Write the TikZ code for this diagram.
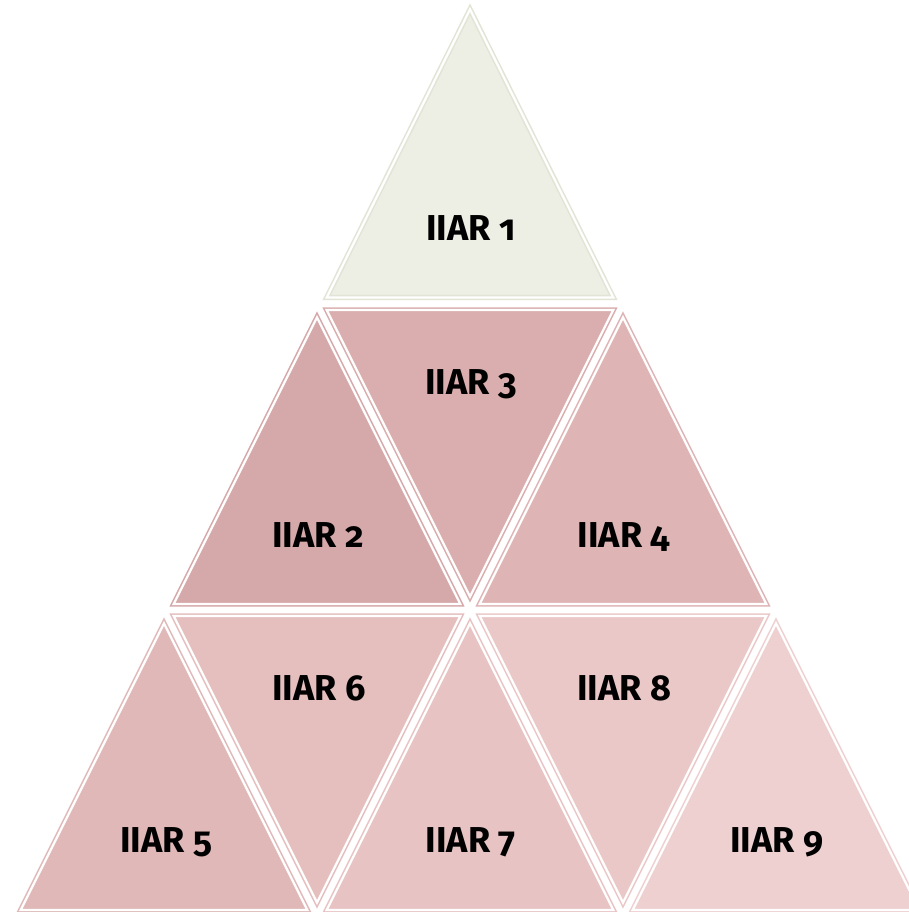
\documentclass[tikz,border=0pt]{standalone}
\usepackage{fontspec}
\setmainfont{Fira Sans}[Numbers=OldStyle]
\definecolor{tA}{HTML}{EDEEE4}
\definecolor{tB}{HTML}{D5A8A9}
\definecolor{tC}{HTML}{DAADAE}
\definecolor{tD}{HTML}{DEB4B5}
\definecolor{tE}{HTML}{E0B8B8}
\definecolor{tF}{HTML}{E5BEBE}
\definecolor{tG}{HTML}{E8C3C3}
\definecolor{tH}{HTML}{EAC8C8}
\definecolor{tI}{HTML}{EED0D1}
\definecolor{tAline}{HTML}{E2E5D6}
\tikzset{
  tri/.style={fill=#1, draw=#1, line width=1.6pt, double=white,
    double distance=2.2pt, line join=miter},
  lbl/.style={anchor=base, inner sep=0pt, text=black,
    font=\bfseries\fontsize{36}{40}\selectfont}
}
% upright / inverted triangle: centre x, row top, row bottom, colour
\newcommand\trup[4]{\path[tri=#4] ({#1},{#2+13.4}) -- ({#1+143.3},{#3-6}) -- ({#1-143.3},{#3-6}) -- cycle;}
\newcommand\trdn[4]{\path[tri=#4] ({#1-143.3},{#2+6}) -- ({#1+143.3},{#2+6}) -- ({#1},{#3-13.4}) -- cycle;}
\begin{document}
\begin{tikzpicture}[x=1pt,y=-1pt]
\useasboundingbox (0,0) rectangle (909,912);
\clip (0,0) rectangle (909,912);
% top row
\path[tri=tA, draw=tAline] (470,{-4+13.4}) -- ({470+143.3},{303.5-6}) -- ({470-143.3},{303.5-6}) -- cycle;
% middle row
\trup{317}{304}{610}{tB}
\trdn{470}{304}{610}{tC}
\trup{623}{304}{610}{tD}
% bottom row
\trup{164}{610}{916}{tE}
\trdn{317}{610}{916}{tF}
\trup{470}{610}{916}{tG}
\trdn{623}{610}{916}{tH}
\trup{776}{610}{916}{tI}
% labels
\node[lbl] (n1) at (471,240) {IIAR 1};
\node[lbl] (n2) at (318,547) {IIAR 2};
\node[lbl] (n3) at (471,394) {IIAR 3};
\node[lbl] (n4) at (624,547) {IIAR 4};
\node[lbl] (n5) at (166,852) {IIAR 5};
\node[lbl] (n6) at (319,700) {IIAR 6};
\node[lbl] (n7) at (471,852) {IIAR 7};
\node[lbl] (n8) at (624,700) {IIAR 8};
\node[lbl] (n9) at (777,852) {IIAR 9};
\end{tikzpicture}
\end{document}
